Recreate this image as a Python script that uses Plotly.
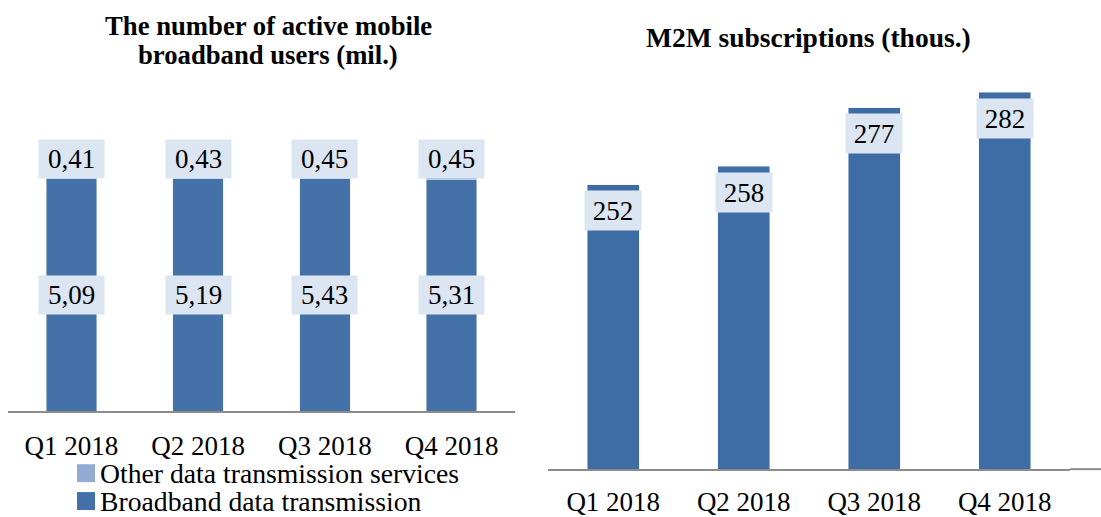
import plotly.graph_objects as go

quarters = ["Q1 2018", "Q2 2018", "Q3 2018", "Q4 2018"]
broadband = [5.09, 5.19, 5.43, 5.31]
other = [0.41, 0.43, 0.45, 0.45]
m2m = [252, 258, 277, 282]
legend_names = ["Other data transmission services", "Broadband data transmission"]

W, H = 1101, 517
FONT = "Liberation Serif"
DARK = "#4472a8"
DARK2 = "#3e6da6"
LIGHT = "#94acd4"
BOX = "#dce6f2"
AXIS = "#8c8c8c"

def fmt(v):
    return f"{v:.2f}".replace(".", ",")

def px_x(p):
    return p / W

def px_y(p):
    return (H - p) / H

# 100% stacked shares for the left chart
totals = [b + o for b, o in zip(broadband, other)]
bb_share = [b / t * 100 for b, t in zip(broadband, totals)]
ot_share = [o / t * 100 for o, t in zip(other, totals)]

fig = go.Figure()
fig.add_trace(go.Bar(x=quarters, y=bb_share, name=legend_names[1], customdata=broadband,
                     marker_color=DARK, xaxis="x", yaxis="y", showlegend=False))
fig.add_trace(go.Bar(x=quarters, y=ot_share, name=legend_names[0], customdata=other,
                     marker_color=LIGHT, xaxis="x", yaxis="y", showlegend=False))
fig.add_trace(go.Bar(x=quarters, y=m2m, name="M2M subscriptions",
                     marker_color=DARK2, xaxis="x2", yaxis="y2", showlegend=False))

lab_font = dict(family=FONT, size=27, color="black")
annotations = []
for q, b, o, sb in zip(quarters, broadband, other, bb_share):
    annotations.append(dict(x=q, y=sb / 2, xref="x", yref="y", text=fmt(b), showarrow=False,
                            xanchor="center", yanchor="middle",
                            bgcolor=BOX, width=59, height=32, borderpad=3, font=lab_font))
    annotations.append(dict(x=q, y=100, xref="x", yref="y", text=fmt(o), showarrow=False,
                            xanchor="center", yanchor="middle",
                            bgcolor=BOX, width=59, height=32, borderpad=3, font=lab_font))
for q, v in zip(quarters, m2m):
    annotations.append(dict(x=q, y=v, xref="x2", yref="y2", text=str(v), showarrow=False,
                            xanchor="center", yanchor="middle",
                            yshift=-26, bgcolor=BOX, width=50, height=33, borderpad=3,
                            font=lab_font))

title_font = dict(family=FONT, size=26.7, color="black")
annotations.append(dict(x=px_x(268), y=px_y(26), xref="paper", yref="paper",
                        xanchor="center", yanchor="middle",
                        text="<b>The number of active mobile</b>", showarrow=False, font=title_font))
annotations.append(dict(x=px_x(268), y=px_y(55), xref="paper", yref="paper",
                        xanchor="center", yanchor="middle",
                        text="<b>broadband users (mil.)</b>", showarrow=False, font=title_font))
annotations.append(dict(x=px_x(808), y=px_y(38), xref="paper", yref="paper",
                        xanchor="center", yanchor="middle",
                        text="<b>M2M subscriptions (thous.)</b>", showarrow=False,
                        font=dict(family=FONT, size=27.5, color="black")))

# legend (left chart)
shapes = []
for name, col, yc in zip(legend_names, [LIGHT, DARK], [475, 503]):
    shapes.append(dict(type="rect", xref="paper", yref="paper",
                       x0=px_x(77), x1=px_x(95), y0=px_y(yc + 9), y1=px_y(yc - 9),
                       fillcolor=col, line=dict(width=0)))
    annotations.append(dict(x=px_x(98), y=px_y(yc), xref="paper", yref="paper",
                            xanchor="left", yanchor="middle", text=name, showarrow=False,
                            font=dict(family=FONT, size=27.7, color="black")))

shapes.append(dict(type="line", xref="paper", yref="paper", x0=px_x(1070), x1=1,
                   y0=px_y(471), y1=px_y(471), line=dict(color=AXIS, width=2)))

fig.update_layout(
    width=W, height=H,
    margin=dict(l=0, r=0, t=0, b=0),
    paper_bgcolor="white", plot_bgcolor="white",
    barmode="stack", bargap=0.6,
    showlegend=False,
    font=dict(family=FONT, size=27, color="black"),
    xaxis=dict(domain=[px_x(8), px_x(515)], anchor="y", showline=True, linecolor=AXIS,
               linewidth=2, ticks="outside", ticklen=9, tickcolor="rgba(0,0,0,0)",
               tickfont=dict(family=FONT, size=27), showgrid=False),
    yaxis=dict(domain=[px_y(413), px_y(160)], anchor="x", range=[0, 100], visible=False),
    xaxis2=dict(domain=[px_x(548), px_x(1070)], anchor="y2", showline=True, linecolor=AXIS,
                linewidth=2, ticks="outside", ticklen=7, tickcolor="rgba(0,0,0,0)",
                tickfont=dict(family=FONT, size=27), showgrid=False),
    yaxis2=dict(domain=[px_y(471), px_y(80)], anchor="x2", range=[160, 286], visible=False),
    annotations=annotations,
    shapes=shapes,
)

fig.write_html("out.html", config={"displayModeBar": False},
               post_script="document.body.style.margin='0';")
